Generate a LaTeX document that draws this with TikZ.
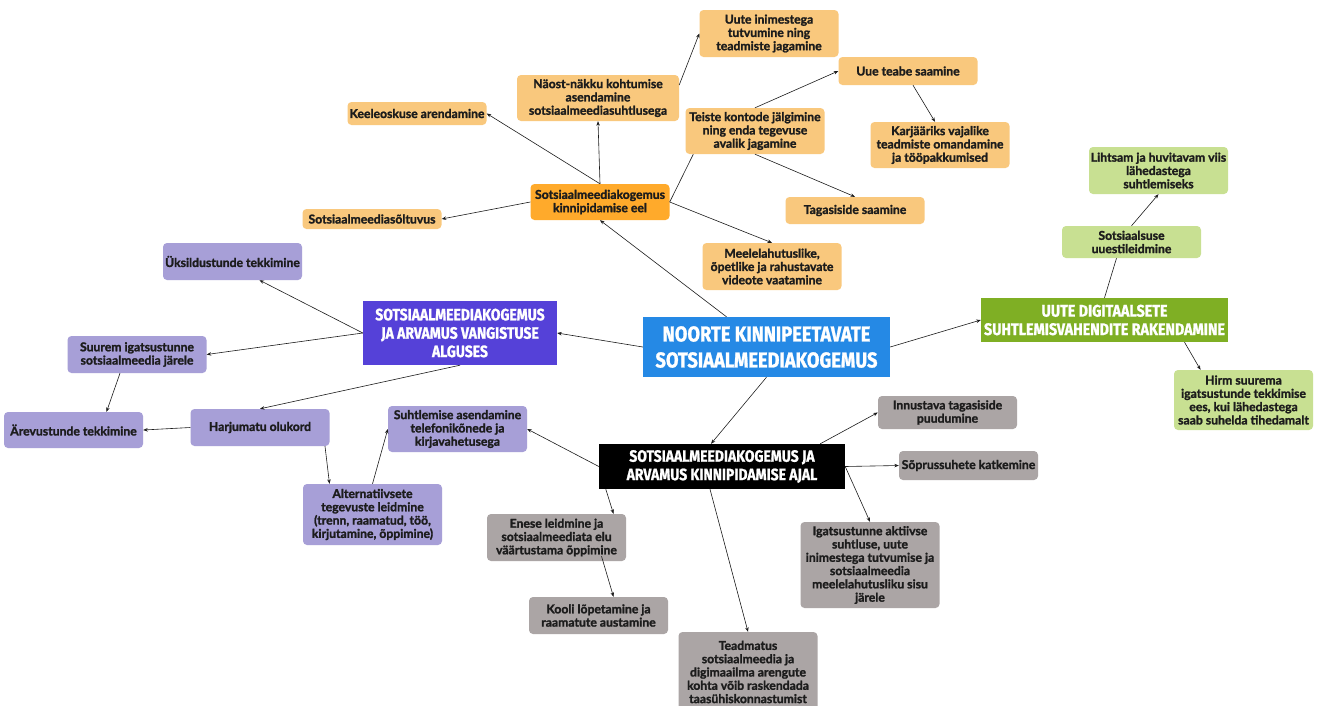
\documentclass[tikz,border=0pt]{standalone}
\usepackage{fontspec}
\setmainfont{Lato}[BoldFeatures={FakeBold=1.6}]
\newfontfamily\hubfamily[FakeStretch=0.85, BoldFeatures={FakeBold=1.2}]{Fira Sans}
\usetikzlibrary{arrows.meta}

\definecolor{textdark}{HTML}{1C1C1C}
\definecolor{orlight}{HTML}{F9C87D}
\definecolor{ordark}{HTML}{FFAA2B}
\definecolor{grlight}{HTML}{C8E092}
\definecolor{grdark}{HTML}{7FAF24}
\definecolor{pulight}{HTML}{A79FD7}
\definecolor{pudark}{HTML}{5541D8}
\definecolor{graylight}{HTML}{ABA5A5}
\definecolor{mainblue}{HTML}{2589E5}

\newcommand\leaffont{\fontsize{12.2}{13.3}\selectfont\bfseries}
\newcommand\hubfont{\hubfamily\fontsize{16.4}{18.4}\selectfont\bfseries}
\newcommand\hubbig{\hubfamily\fontsize{21.5}{26}\selectfont\bfseries}

\begin{document}
\begin{tikzpicture}[x=1pt, y=-1pt,
    box/.style = {rounded corners=4pt, inner sep=1pt, minimum width=139pt, align=center, font=\leaffont, text=textdark},
    orangebox/.style = {box, fill=orlight},
    greenbox/.style = {box, fill=grlight},
    purplebox/.style = {box, fill=pulight},
    graybox/.style = {box, fill=graylight},
    hub/.style = {inner sep=0pt, align=center, text=white, font=\hubfont},
    link/.style = {-{Stealth[length=4.5pt, width=3.5pt]}, line width=0.6pt, draw=textdark},
    plain/.style = {line width=0.6pt, draw=textdark}]
  \useasboundingbox[fill=white] (0,0) rectangle (1322,705);

  % keskne teema
  \node[hub, fill=mainblue, font=\hubbig, minimum width=247pt, minimum height=60pt] (main) at (766.5,347) {NOORTE KINNIPEETAVATE\\SOTSIAALMEEDIAKOGEMUS};

  % enne kinnipidamist
  \node[orangebox, fill=ordark, minimum height=36pt] (eel) at (600,202) {Sotsiaalmeediakogemus\\kinnipidamise eel};
  \node[orangebox, minimum height=47pt] (uute) at (769,33.5) {Uute inimestega\\tutvumine ning\\teadmiste jagamine};
  \node[orangebox, minimum width=162pt, minimum height=46pt] (naost) at (598,98) {Näost-näkku kohtumise\\asendamine\\sotsiaalmeediasuhtlusega};
  \node[orangebox, minimum height=23pt] (keel) at (417,113.5) {Keeleoskuse arendamine};
  \node[orangebox, minimum height=46pt] (teiste) at (755,131) {Teiste kontode jälgimine\\ning enda tegevuse\\avalik jagamine};
  \node[orangebox, minimum height=28pt] (uue) at (908,71) {Uue teabe saamine};
  \node[orangebox, minimum height=46pt] (karj) at (940,145) {Karjääriks vajalike\\teadmiste omandamine\\ja tööpakkumised};
  \node[orangebox, minimum height=27pt] (tagas) at (855,210.5) {Tagasiside saamine};
  \node[orangebox, minimum height=20pt] (soltuvus) at (372,219) {Sotsiaalmeediasõltuvus};
  \node[orangebox, minimum height=47pt] (meel) at (772,266.5) {Meelelahutuslike,\\õpetlike ja rahustavate\\videote vaatamine};

  % digivahendid
  \node[hub, fill=grdark, font=\hubfamily\fontsize{16.8}{18.4}\selectfont\bfseries, minimum width=247pt, minimum height=44pt] (digi) at (1104.5,320) {UUTE DIGITAALSETE\\SUHTLEMISVAHENDITE RAKENDAMINE};
  \node[greenbox, minimum height=32pt] (sots) at (1131.5,242) {Sotsiaalsuse\\uuestileidmine};
  \node[greenbox, minimum height=47pt] (lihtsam) at (1158.5,170.5) {Lihtsam ja huvitavam viis\\lähedastega\\suhtlemiseks};
  \node[greenbox, minimum height=60pt] (hirm) at (1243.5,400) {Hirm suurema\\igatsustunde tekkimise\\ees, kui lähedastega\\saab suhelda tihedamalt};

  % vangistuse algus
  \node[hub, fill=pudark, minimum width=194pt, minimum height=64pt] (algus) at (460,333) {SOTSIAALMEEDIAKOGEMUS\\JA ARVAMUS VANGISTUSE\\ALGUSES};
  \node[purplebox, minimum height=37pt] (uksi) at (232.5,261.5) {Üksildustunde tekkimine};
  \node[purplebox, minimum height=37pt] (suurem) at (137,354.5) {Suurem igatsustunne\\sotsiaalmeedia järele};
  \node[purplebox, minimum height=36pt] (arev) at (73.5,430) {Ärevustunde tekkimine};
  \node[purplebox, minimum height=37pt] (harj) at (260,427.5) {Harjumatu olukord};
  \node[purplebox, minimum height=46pt] (suhtl) at (457.5,429) {Suhtlemise asendamine\\telefonikõnede ja\\kirjavahetusega};
  \node[purplebox, minimum height=61pt] (alt) at (372.5,514.5) {Alternatiivsete\\tegevuste leidmine\\(trenn, raamatud, töö,\\kirjutamine, õppimine)};

  % kinnipidamise ajal
  \node[hub, fill=black, minimum width=246pt, minimum height=45pt] (ajal) at (722,466.5) {SOTSIAALMEEDIAKOGEMUS JA\\ARVAMUS KINNIPIDAMISE AJAL};
  \node[graybox, minimum height=33pt] (innus) at (947.5,412.5) {Innustava tagasiside\\puudumine};
  \node[graybox, minimum height=29pt] (sopr) at (968.5,465.5) {Sõprussuhete katkemine};
  \node[graybox, minimum height=86pt] (igats) at (870,565) {Igatsustunne aktiivse\\suhtluse, uute\\inimestega tutvumise ja\\sotsiaalmeedia\\meelelahutusliku sisu\\järele};
  \node[graybox, minimum height=47pt] (enese) at (556.5,537.5) {Enese leidmine ja\\sotsiaalmeediata elu\\väärtustama õppimine};
  \node[graybox, minimum height=37pt] (kooli) at (598.5,615.5) {Kooli lõpetamine ja\\raamatute austamine};
  \node[graybox, minimum height=80pt] (teadm) at (748,672) {Teadmatus\\sotsiaalmeedia ja\\digimaailma arengute\\kohta võib raskendada\\taasühiskonnastumist};

  % seosed
  \draw[link] ([xshift=-40pt]main.north) -- (eel.south);
  \draw[link] (eel.north) -- (naost.south);
  \draw[link] (eel.north) -- (keel.east);
  \draw[link] (eel.west) -- (soltuvus.east);
  \draw[plain] (eel.east) -- ([xshift=8pt]teiste.south west);
  \draw[link] (eel.east) -- (meel.north);
  \draw[link] ([yshift=13pt]naost.east) -- (uute.west);
  \draw[link] (teiste.north) -- (uue.west);
  \draw[link] ([xshift=5pt]uue.south) -- ([xshift=-5pt]karj.north);
  \draw[link] (teiste.south) -- (tagas.north);

  \draw[link] (main.east) -- (digi.west);
  \draw[plain] (digi.north) -- ([xshift=-15pt]sots.south);
  \draw[link] (sots.north) -- (lihtsam.south);
  \draw[link] ([xshift=80pt]digi.south) -- ([xshift=-43pt]hirm.north);

  \draw[link] (main.west) -- (algus.east);
  \draw[link] (algus.west) -- ([xshift=27pt]uksi.south);
  \draw[link] (algus.west) -- (suurem.east);
  \draw[link] (algus.south) -- (harj.north);
  \draw[link] ([xshift=-17pt]suurem.south) -- ([xshift=33pt]arev.north);
  \draw[link] (harj.west) -- (arev.east);
  \draw[link] ([xshift=65pt]harj.south) -- ([xshift=-43pt]alt.north);
  \draw[link] (alt.north) -- (suhtl.west);

  \draw[link] (main.south) -- ([xshift=-11pt]ajal.north);
  \draw[link] (ajal.west) -- (suhtl.east);
  \draw[link] ([xshift=7pt]ajal.south west) -- ([xshift=57pt]enese.north);
  \draw[link] ([xshift=45pt,yshift=5pt]enese.south) -- ([xshift=15pt]kooli.north);
  \draw[link] ([xshift=-12pt]ajal.south) -- (teadm.north);
  \draw[link] ([xshift=-25pt]ajal.north east) -- (innus.west);
  \draw[link] (ajal.east) -- (sopr.west);
  \draw[link] (ajal.east) -- (igats.north);
\end{tikzpicture}
\end{document}
